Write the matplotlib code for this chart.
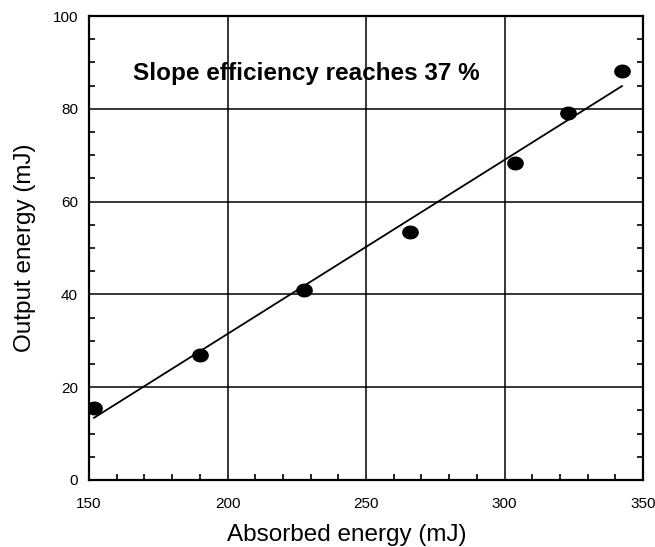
import numpy as np
import matplotlib.pyplot as plt
import matplotlib.ticker as ticker
from matplotlib.path import Path

plt.rcParams['font.family'] = ['Liberation Sans', 'DejaVu Sans']

# measured points
absorbed = [151.8, 190.1, 227.6, 265.9, 303.8, 322.9, 342.4]
output = [15.5, 26.9, 41.0, 53.4, 68.3, 79.1, 88.1]

# linear fit line (end points)
fit_x = [151.8, 342.4]
fit_y = [13.4, 84.9]

# slightly flattened dot, like the scanned original
t = np.linspace(0, 2 * np.pi, 60)
dot = Path(np.column_stack([np.cos(t), 0.82 * np.sin(t)]), closed=True)

fig = plt.figure(figsize=(6.55, 5.47), dpi=100)
ax = fig.add_axes([0.1359, 0.1225, 0.8458, 0.8482])

ax.plot(fit_x, fit_y, color='black', linewidth=1.3, zorder=3)
ax.plot(absorbed, output, linestyle='none', marker=dot, color='black',
        markersize=11, zorder=4)

ax.set_xlim(150, 350)
ax.set_ylim(0, 100)

ax.xaxis.set_major_locator(ticker.MultipleLocator(50))
ax.xaxis.set_minor_locator(ticker.MultipleLocator(10))
ax.yaxis.set_major_locator(ticker.MultipleLocator(20))
ax.yaxis.set_minor_locator(ticker.MultipleLocator(5))

ax.grid(True, which='major', color='black', linewidth=1.1)
ax.tick_params(which='both', direction='in', right=True, top=False,
               labelsize=11, width=1.2)
ax.tick_params(axis='x', which='major', length=0, pad=12)
ax.tick_params(axis='y', which='major', length=0, pad=8)
ax.tick_params(which='minor', length=4)
for s in ax.spines.values():
    s.set_linewidth(1.6)

ax.text(166, 87.7, 'Slope efficiency reaches 37 %', fontsize=17.5,
        fontweight='bold', va='center', ha='left')

ax.set_xlabel('Absorbed energy (mJ)', fontsize=17.5)
ax.xaxis.set_label_coords(0.466, -0.095)
ax.set_ylabel('Output energy (mJ)', fontsize=17.5)
ax.yaxis.set_label_coords(-0.095, 0.5)

plt.savefig('out.png', dpi=100)
